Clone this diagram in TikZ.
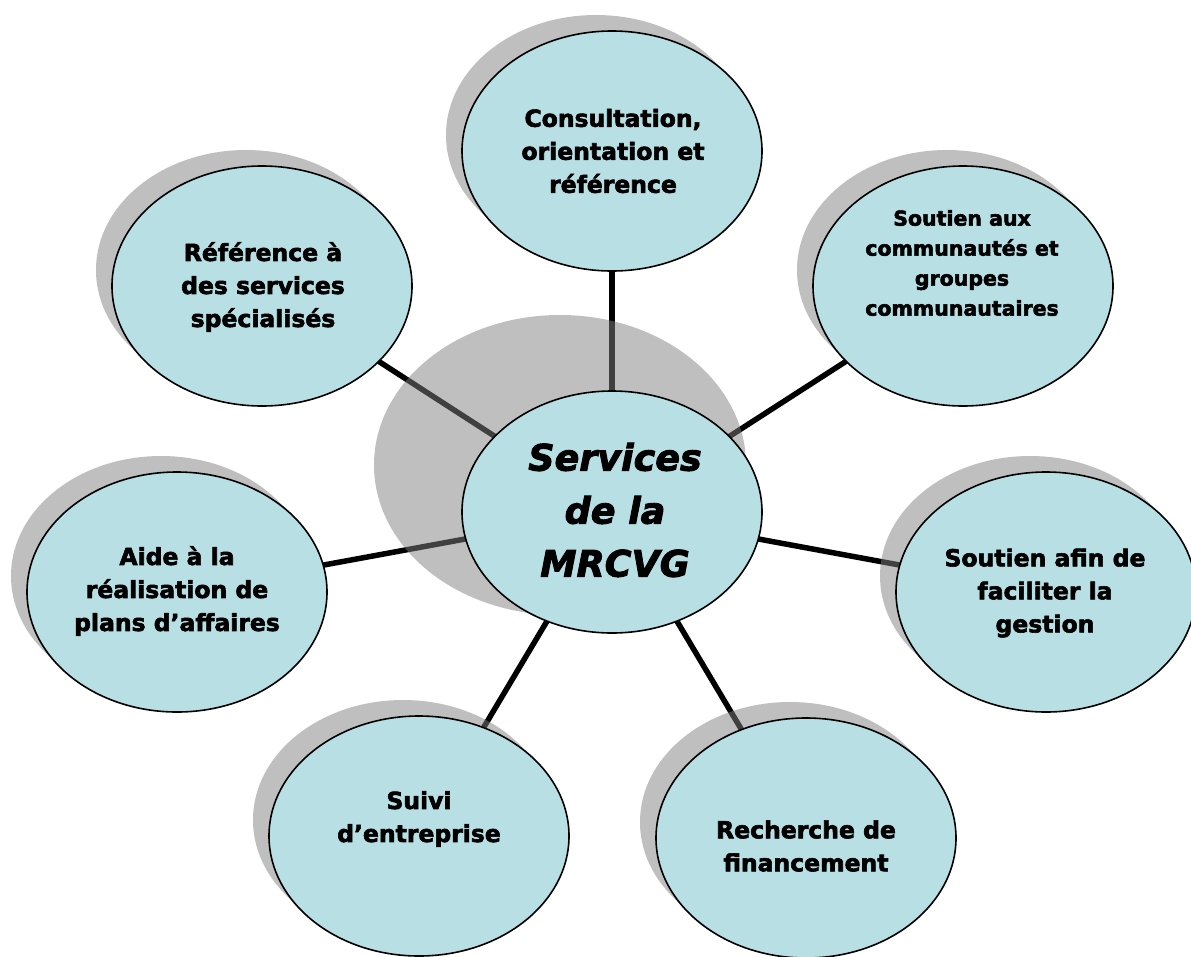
\documentclass[tikz,border=0pt]{standalone}
\usepackage{fontspec}
\setmainfont{DejaVu Sans}[BoldFeatures={FakeBold=2.5},BoldItalicFeatures={FakeBold=2.5}]
\usetikzlibrary{shapes.geometric,calc}
\definecolor{bubfill}{RGB}{184,223,228}
\pgfdeclarelayer{bglayer}
\pgfdeclarelayer{linelayer}
\pgfdeclarelayer{shadowlayer}
\pgfsetlayers{bglayer,linelayer,shadowlayer,main}
\begin{document}
\begin{tikzpicture}[x=1pt,y=-1pt,
  bub/.style={ellipse, draw=black, line width=1.6pt, fill=bubfill,
    minimum width=300pt, minimum height=240pt, inner sep=0pt},
  bigbub/.style={bub, minimum width=300pt, minimum height=242pt},
  lbl/.style={align=center, text=black, inner sep=0pt,
    font=\bfseries\fontsize{23.5}{33}\selectfont},
  lblsmall/.style={lbl, font=\bfseries\fontsize{20.5}{30}\selectfont},
  lblcenter/.style={align=center, text=black, inner sep=0pt,
    font=\bfseries\itshape\fontsize{36.5}{53}\selectfont},
  conn/.style={line width=5.5pt, black},
  shd/.style={fill=black!50, fill opacity=0.5}]
\useasboundingbox (0,0) rectangle (1191,956);
\begin{pgfonlayer}{bglayer}
  \fill[white] (0,0) rectangle (1191,956);
\end{pgfonlayer}

% ellipses
\node[bigbub] (c) at (612,512) {};
\node[bub] (e1) at (612,151) {};
\node[bub] (e2) at (963,286) {};
\node[bub] (e3) at (1046,592) {};
\node[bub] (e4) at (806,838) {};
\node[bub] (e5) at (419,836) {};
\node[bub] (e6) at (177,592) {};
\node[bub] (e7) at (262,286) {};

% texts
\node[lblcenter] (t0) at (615,510) {Services\\de la\\MRCVG};
\node[lbl] (t1) at (613,151) {Consultation,\\orientation et\\référence};
\node[lblsmall] (t2) at (962,263) {Soutien aux\\communautés et\\groupes\\communautaires};
\node[lbl] (t3) at (1045,593) {Soutien afin de\\faciliter la\\gestion};
\node[lbl] (t4) at (806,846) {Recherche de\\financement};
\node[lbl] (t5) at (419,819) {Suivi\\d’entreprise};
\node[lbl] (t6) at (177,591) {Aide à la\\réalisation de\\plans d’affaires};
\node[lbl] (t7) at (263,287) {Référence à\\des services\\spécialisés};

% shadows
\begin{pgfonlayer}{shadowlayer}
  \fill[shd] (560,465) ellipse [x radius=186, y radius=150];
  \foreach \n in {e1,e2,e3,e4,e5,e6,e7}{
    \fill[shd] ($(\n.center)+(-16,-16)$) ellipse [x radius=150, y radius=120];
  }
\end{pgfonlayer}

% connectors
\begin{pgfonlayer}{linelayer}
  \foreach \n in {e1,e2,e3,e4,e5,e6,e7}{
    \draw[conn] (c.center) -- (\n.center);
  }
\end{pgfonlayer}
\end{tikzpicture}
\end{document}
